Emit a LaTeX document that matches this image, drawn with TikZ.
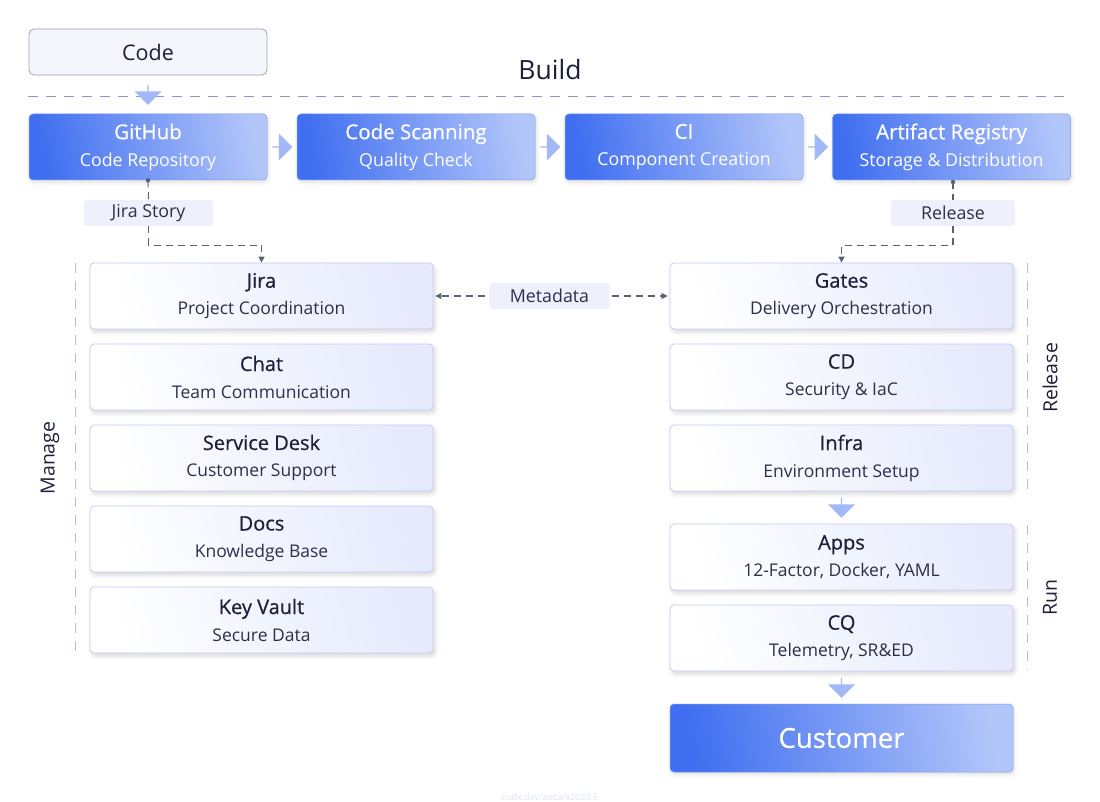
\documentclass[tikz,border=0pt]{standalone}
\usepackage{fontspec}
\setmainfont{Open Sans}
\newfontfamily\headfont[FakeBold=0.6]{Open Sans}
\usetikzlibrary{arrows.meta,shapes.arrows,shadows.blur,calc}
\definecolor{flowblue}{HTML}{3F6EF0}
\definecolor{flowlight}{HTML}{B3C6FA}
\definecolor{flowedge}{HTML}{7F9CF0}
\definecolor{palefill}{HTML}{E6EAFC}
\definecolor{paleedge}{HTML}{C2CCF6}
\definecolor{ink}{HTML}{1C2038}
\definecolor{inksoft}{HTML}{2C3047}
\definecolor{linkgray}{HTML}{5B6079}
\definecolor{tagfill}{HTML}{EEF1FC}
\definecolor{lanecol}{HTML}{B6BCE8}
\definecolor{buildline}{HTML}{8C94D8}
\definecolor{hopblue}{HTML}{A3B8F8}
\definecolor{codefill}{HTML}{F5F6FC}
\definecolor{codeedge}{HTML}{9CA1AE}

\tikzset{
  stage/.style={rounded corners=4pt, minimum width=238pt, minimum height=66pt,
    align=center, text=white, left color=flowblue, right color=flowlight,
    shading angle=100, draw=flowedge, line width=0.5pt,
    blur shadow={shadow xshift=1pt, shadow yshift=-2pt, shadow blur radius=4pt, shadow opacity=14},
    font=\fontsize{17.8}{27}\selectfont},
  tool/.style={rounded corners=4pt, minimum width=343pt, minimum height=66pt,
    align=center, text=inksoft, left color=white, right color=palefill,
    shading angle=105, draw=paleedge, line width=0.8pt,
    blur shadow={shadow xshift=2pt, shadow yshift=-3pt, shadow blur radius=4pt, shadow opacity=16},
    font=\fontsize{17.5}{27}\selectfont},
  hop/.style={single arrow, fill=hopblue, draw=none, inner sep=0pt,
    minimum height=20pt, minimum width=27pt, single arrow head extend=4pt},
  tag/.style={fill=tagfill, rounded corners=3pt, minimum height=26pt,
    text=inksoft, font=\fontsize{17.8}{19}\selectfont},
  link/.style={draw=linkgray, line width=1.1pt, dash pattern=on 7pt off 5pt},
  lane/.style={draw=lanecol, line width=1pt, dash pattern=on 10pt off 8pt},
  lanelabel/.style={rotate=90, text=ink, font=\fontsize{19.5}{21}\selectfont},
}

\begin{document}
\begin{tikzpicture}[x=1pt, y=-1pt, >={Triangle[length=6pt,width=6pt]}]
  \useasboundingbox (0,0) rectangle (1100,802);
  % Build band
  \node[rounded corners=5pt, draw=codeedge, fill=codefill, line width=0.8pt,
    minimum width=238pt, minimum height=46pt, text=ink,
    font=\fontsize{21.5}{23}\selectfont] (code) at (148,52) {Code};
  \node[text=ink, font=\fontsize{26.5}{28}\selectfont] (buildlbl) at (550,70) {Build};
  \draw[lane, draw=buildline] (28,97) -- (1072,97);
  \node[stage] (github) at (148,147) {{\headfont\fontsize{20.5}{21}\selectfont GitHub}\\Code Repository};
  \node[stage] (scan) at (416,147) {{\headfont\fontsize{20.5}{21}\selectfont Code Scanning}\\Quality Check};
  \node[stage] (ci) at (684,147) {{\headfont\fontsize{20.5}{21}\selectfont CI}\\Component Creation};
  \node[stage] (registry) at (951.5,147) {{\headfont\fontsize{20.5}{21}\selectfont Artifact Registry}\\Storage \& Distribution};
  \node[hop, shape border rotate=270] (hop0) at ($(code.south)!0.5!(github.north)$) {};
  \node[hop] (hop1) at ($(github.east)!0.5!(scan.west)$) {};
  \node[hop] (hop2) at ($(scan.east)!0.5!(ci.west)$) {};
  \node[hop] (hop3) at ($(ci.east)!0.5!(registry.west)$) {};
  % Manage column
  \node[tool] (jira) at (261.5,296) {{\headfont\fontsize{20}{21}\selectfont\color{ink}Jira}\\Project Coordination};
  \node[tool] (chat) at (261.5,377) {{\headfont\fontsize{20}{21}\selectfont\color{ink}Chat}\\Team Communication};
  \node[tool] (desk) at (261.5,458) {{\headfont\fontsize{20}{21}\selectfont\color{ink}Service Desk}\\Customer Support};
  \node[tool] (docs) at (261.5,539) {{\headfont\fontsize{20}{21}\selectfont\color{ink}Docs}\\Knowledge Base};
  \node[tool] (vault) at (261.5,620) {{\headfont\fontsize{20}{21}\selectfont\color{ink}Key Vault}\\Secure Data};
  \draw[lane] (75,263) -- (75,655);
  \node[lanelabel] (managelbl) at (50,458) {Manage};
  % Release / Run column
  \node[tool] (gates) at (841.5,296) {{\headfont\fontsize{20}{21}\selectfont\color{ink}Gates}\\Delivery Orchestration};
  \node[tool] (cd) at (841.5,377) {{\headfont\fontsize{20}{21}\selectfont\color{ink}CD}\\Security \& IaC};
  \node[tool] (infra) at (841.5,458) {{\headfont\fontsize{20}{21}\selectfont\color{ink}Infra}\\Environment Setup};
  \node[tool] (apps) at (841.5,557) {{\headfont\fontsize{20}{21}\selectfont\color{ink}Apps}\\12-Factor, Docker, YAML};
  \node[tool] (cq) at (841.5,638) {{\headfont\fontsize{20}{21}\selectfont\color{ink}CQ}\\Telemetry, SR\&ED};
  \node[stage, minimum width=343pt, minimum height=68pt,
    font=\fontsize{27.5}{30}\selectfont] (customer) at (841.5,738) {\headfont Customer};
  \node[hop, shape border rotate=270] (hop4) at ($(infra.south)!0.5!(apps.north)$) {};
  \node[hop, shape border rotate=270] (hop5) at ($(cq.south)!0.5!(customer.north)$) {};
  \draw[lane] (1027,263) -- (1027,493);
  \node[lanelabel] (releaselbl) at (1050,378) {Release};
  \draw[lane] (1027,525) -- (1027,670);
  \node[lanelabel] (runlbl) at (1050,598) {Run};
  % Hand-offs
  \node[tag, minimum width=129pt] (jirastory) at (148.5,213) {Jira Story};
  \node[tag, minimum width=124pt] (release) at (953,213) {Release};
  \node[tag, minimum width=121pt] (metadata) at (549.5,296) {Metadata};
  \coordinate (regdot) at (953,182);
  \fill[linkgray] (github.south) circle (2.2);
  \fill[linkgray] (regdot) circle (2.2);
  \draw[link] (github.south) -- (jirastory.north);
  \draw[link, ->] (jirastory.south) -- ++(0,19) -| (jira.north);
  \draw[link] (regdot) -- (release.north);
  \draw[link, ->] (release.south) -- ++(0,19) -| (gates.north);
  \draw[link, ->, shorten >=2pt] (metadata.west) ++(-4,0) -- (jira.east);
  \draw[link, ->, shorten >=2pt] (metadata.east) ++(2,0) -- (gates.west);
  % Footer
  \node[text=tagfill!70!lanecol, font=\fontsize{9}{10}\selectfont] (stamp) at (550,797) {cudx.dev/aoca/v2023.6};
\end{tikzpicture}
\end{document}
